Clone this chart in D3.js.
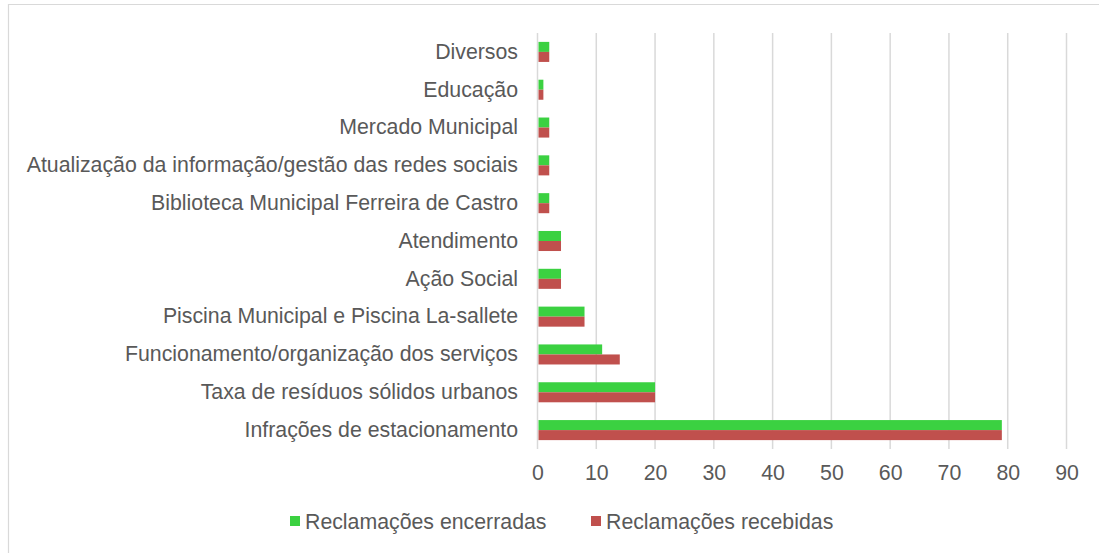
<!DOCTYPE html>
<html><head><meta charset="utf-8">
<script src="https://cdn.jsdelivr.net/npm/d3@7"></script>
<style>body{margin:0;background:#fff}svg{display:block}</style>
</head><body>
<svg id="c" width="1099" height="553"></svg>
<script>
const categories = ["Diversos","Educação","Mercado Municipal","Atualização da informação/gestão das redes sociais","Biblioteca Municipal Ferreira de Castro","Atendimento","Ação Social","Piscina Municipal e Piscina La-sallete","Funcionamento/organização dos serviços","Taxa de resíduos sólidos urbanos","Infrações de estacionamento"];
const encerradas = [2,1,2,2,2,4,4,8,11,20,79];
const recebidas  = [2,1,2,2,2,4,4,8,14,20,79];
const seriesNames = ["Reclamações encerradas","Reclamações recebidas"];
const seriesColors = ["#3bd141","#c0504d"];
const xTicks = [0,10,20,30,40,50,60,70,80,90];

const svg = d3.select("#c");
const font = "'Liberation Sans', Arial, sans-serif";
// outer border
svg.append("path").attr("d","M8.5,553 L8.5,4.5 L1099,4.5").attr("fill","none").attr("stroke","#d9d9d9").attr("stroke-width",1.2);

const x = d3.scaleLinear().domain([0,90]).range([537.5,1066.5]);
const y = d3.scaleBand().domain(categories).range([33,449]).paddingInner(0.47).paddingOuter(0.235);
const sub = d3.scaleBand().domain([0,1]).range([0,y.bandwidth()]);

const g = svg.append("g");
g.selectAll("line.grid").data(xTicks).join("line").attr("class","grid")
  .attr("x1",d=>x(d)).attr("x2",d=>x(d)).attr("y1",33).attr("y2",449)
  .attr("stroke","#d9d9d9").attr("stroke-width",1.5);

const data = [encerradas, recebidas];
data.forEach((vals,si)=>{
  g.selectAll("rect.s"+si).data(vals).join("rect").attr("class","s"+si)
   .attr("x",x(0)+1).attr("y",(d,i)=>y(categories[i])+sub(si))
   .attr("width",d=>x(d)-x(0)-1).attr("height",sub.bandwidth())
   .attr("fill",seriesColors[si]);
});

const yAxis = d3.axisLeft(y).tickSize(0).tickPadding(0);
svg.append("g").attr("transform","translate(518,0)").call(yAxis)
  .call(a=>a.select(".domain").remove())
  .selectAll("text").attr("font-family",font).attr("font-size","21.3px").attr("fill","#595959");

const xAxis = d3.axisBottom(x).tickValues(xTicks).tickSize(0).tickPadding(0);
svg.append("g").attr("transform","translate(0,465)").call(xAxis)
  .call(a=>a.select(".domain").remove())
  .selectAll("text").attr("font-family",font).attr("font-size","21.3px").attr("fill","#595959").attr("dy","0.71em");

const legX = [290,591];
seriesNames.forEach((n,i)=>{
  svg.append("rect").attr("x",legX[i]).attr("y",516).attr("width",10).attr("height",10).attr("fill",seriesColors[i]);
  svg.append("text").attr("x",legX[i]+15).attr("y",529)
    .attr("font-family",font).attr("font-size","21.3px").attr("fill","#595959").text(n);
});
</script>
</body></html>
